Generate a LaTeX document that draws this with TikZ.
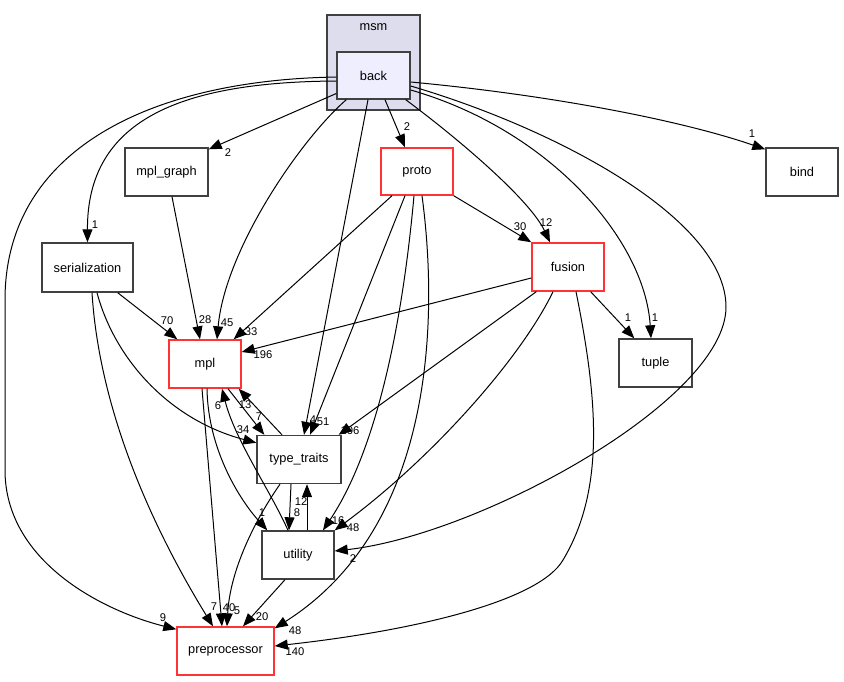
\documentclass[tikz,border=0pt]{standalone}
\usepackage{fontspec}
\setmainfont{Liberation Sans}
\usetikzlibrary{arrows.meta,calc}
\definecolor{bord}{RGB}{64,64,64}
\definecolor{redb}{RGB}{255,51,51}
\definecolor{clfill}{RGB}{221,221,238}
\definecolor{backfill}{RGB}{238,238,255}
\begin{document}
\begin{tikzpicture}[x=1pt,y=-1pt,
  box/.style={draw=bord,line width=1.4pt,fill=white,inner sep=0pt,font=\fontsize{12.8}{14}\selectfont},
  redbox/.style={box,draw=redb},
  dep/.style={draw=black,line width=1pt,-{Triangle[length=13pt,width=10pt]}},
  lbl/.style={inner sep=0pt,font=\fontsize{11.2}{12}\selectfont}]
\useasboundingbox[fill=white] (0,0) rectangle (844,681);
% nodes
\node[box,fill=clfill,minimum width=93pt,minimum height=95pt] (msm) at (373.5,62.5) {};
\node[inner sep=0pt,font=\fontsize{12.8}{14}\selectfont] (msmlbl) at (373.5,27) {msm};
\node[box,fill=backfill,minimum width=73pt,minimum height=47pt] (back) at (373.5,75.5) {back};
\node[box,minimum width=83pt,minimum height=48pt] (mplgraph) at (166.5,172) {mpl\_graph};
\node[box,minimum width=91pt,minimum height=49pt] (ser) at (87.5,267.5) {serialization};
\node[redbox,minimum width=72pt,minimum height=47pt] (proto) at (417,171.5) {proto};
\node[redbox,minimum width=72pt,minimum height=48pt] (fusion) at (568,267) {fusion};
\node[box,minimum width=72pt,minimum height=48pt] (bind) at (802,172) {bind};
\node[box,minimum width=73pt,minimum height=48pt] (tuple) at (655.5,363) {tuple};
\node[redbox,minimum width=72pt,minimum height=48pt] (mpl) at (205,364) {mpl};
\node[box,minimum width=84pt,minimum height=48pt] (tt) at (299,459.5) {type\_traits};
\node[box,minimum width=72pt,minimum height=48pt] (util) at (298,555) {utility};
\node[redbox,minimum width=97pt,minimum height=48pt] (pre) at (225.5,651) {preprocessor};
% edges from back
\draw[dep] ($(back.west)+(0,5.5)$) .. controls (180,82) and (87,120) .. (ser.north);
\draw[dep] ($(back.west)+(0,1.5)$) .. controls (150,80) and (5,150) .. (5,300) -- (5,470) .. controls (5,560) and (100,610) .. ($(pre.north west)+(0,3)$);
\draw[dep] ($(back.west)+(0,18)$) -- ($(mplgraph.north east)+(0,2)$);
\draw[dep] ($(back.south west)+(10,0)$) .. controls (300,140) and (225,250) .. ($(mpl.north)+(12,0)$);
\draw[dep] ($(back.south)+(-5.5,0)$) -- ($(tt.north)+(5,0)$);
\draw[dep] ($(back.south)+(11.5,0)$) -- ($(proto.north)+(-12,0)$);
\draw[dep] ($(back.south east)+(-5,0)$) .. controls (460,140) and (530,200) .. ($(fusion.north)+(-18,0)$);
\draw[dep] ($(back.east)+(0,6.5)$) .. controls (550,95) and (680,120) .. ($(bind.north west)+(0,2)$);
\draw[dep] ($(back.east)+(0,10.5)$) .. controls (560,130) and (726,220) .. (726,307) .. controls (726,400) and (480,535) .. ($(util.east)+(0,-4)$);
\draw[dep] ($(back.east)+(0,14.5)$) .. controls (550,130) and (645,240) .. ($(tuple.north)+(-4.5,0)$);
% edges from proto
\draw[dep] (proto.south east) -- (fusion.north west);
\draw[dep] ($(proto.south)+(-25,0)$) -- ($(mpl.north east)+(-8,0)$);
\draw[dep] ($(proto.south)+(-12,0)$) -- ($(tt.north)+(11,0)$);
\draw[dep] ($(proto.south)+(-3,0)$) .. controls (400,350) and (370,460) .. ($(util.north)+(25,0)$);
\draw[dep] ($(proto.south)+(5,0)$) .. controls (440,330) and (430,530) .. ($(pre.north east)+(0,2)$);
% edges from fusion
\draw[dep] ($(fusion.west)+(0,11)$) -- ($(mpl.east)+(0,-12)$);
\draw[dep] ($(fusion.south west)+(5,0)$) -- ($(tt.north east)+(-3,0)$);
\draw[dep] ($(fusion.south)+(-15,0)$) .. controls (520,360) and (430,460) .. (util.north east);
\draw[dep] ($(fusion.south east)+(-14,0)$) -- ($(tuple.north west)+(16,0)$);
\draw[dep] ($(fusion.south)+(8,0)$) .. controls (598,400) and (605,490) .. (563,560) .. controls (540,600) and (420,630) .. ($(pre.east)+(0,-5)$);
% edges from mpl_graph / serialization
\draw[dep] ($(mplgraph.south)+(5.5,0)$) -- ($(mpl.north)+(-5,0)$);
\draw[dep] ($(ser.south east)+(-16,0)$) -- ($(mpl.north west)+(9,0)$);
\draw[dep] ($(ser.south)+(9.5,0)$) .. controls (115,360) and (170,420) .. ($(tt.north west)+(0,8)$);
\draw[dep] ($(ser.south)+(4.5,0)$) .. controls (100,420) and (160,540) .. ($(pre.north)+(-12.5,0)$);
% mpl / type_traits / utility
\draw[dep] ($(mpl.south)+(23,0)$) -- ($(tt.north west)+(8,0)$);
\draw[dep] ($(tt.north)+(-17,0)$) -- ($(mpl.south east)+(-3,0)$);
\draw[dep] ($(util.north)+(-10,0)$) .. controls (270,490) and (235,440) .. ($(mpl.south)+(17,0)$);
\draw[dep] ($(mpl.south)+(2,0)$) .. controls (208,450) and (240,500) .. ($(util.north west)+(6,0)$);
\draw[dep] ($(mpl.south)+(-3,0)$) -- ($(pre.north)+(-3.5,0)$);
\draw[dep] ($(tt.south)+(-19,0)$) .. controls (255,520) and (230,570) .. ($(pre.north)+(1.5,0)$);
\draw[dep] ($(tt.south)+(-8,0)$) -- ($(util.north)+(-9,0)$);
\draw[dep] ($(util.north)+(9,0)$) -- ($(tt.south)+(8,0)$);
\draw[dep] ($(util.south)+(-13,0)$) -- ($(pre.north)+(17.5,0)$);
% labels
\node[lbl] (l1) at (95,225) {1};
\node[lbl] (l2) at (163,618) {9};
\node[lbl] (l3) at (228,153) {2};
\node[lbl] (l4) at (227,323) {45};
\node[lbl] (l5) at (313,420) {4};
\node[lbl] (l6) at (407,127) {2};
\node[lbl] (l7) at (546,223) {12};
\node[lbl] (l8) at (752,134) {1};
\node[lbl] (l9) at (353,559) {2};
\node[lbl] (l10) at (655,318) {1};
\node[lbl] (l11) at (520,227) {30};
\node[lbl] (l12) at (251,332) {33};
\node[lbl] (l13) at (323,422) {51};
\node[lbl] (l14) at (338,521) {16};
\node[lbl] (l15) at (295,631) {48};
\node[lbl] (l16) at (263,355) {196};
\node[lbl] (l17) at (350,431) {106};
\node[lbl] (l18) at (353,528) {48};
\node[lbl] (l19) at (628,318) {1};
\node[lbl] (l20) at (295,652) {140};
\node[lbl] (l21) at (205,320) {28};
\node[lbl] (l22) at (167,321) {70};
\node[lbl] (l23) at (243,430) {34};
\node[lbl] (l24) at (214,607) {7};
\node[lbl] (l25) at (259,417) {7};
\node[lbl] (l26) at (245,405) {13};
\node[lbl] (l27) at (218,406) {6};
\node[lbl] (l28) at (262,513) {1};
\node[lbl] (l29) at (229,608) {40};
\node[lbl] (l30) at (237,611) {5};
\node[lbl] (l31) at (301,502) {12};
\node[lbl] (l32) at (297,513) {8};
\node[lbl] (l33) at (262,617) {20};
\end{tikzpicture}
\end{document}
